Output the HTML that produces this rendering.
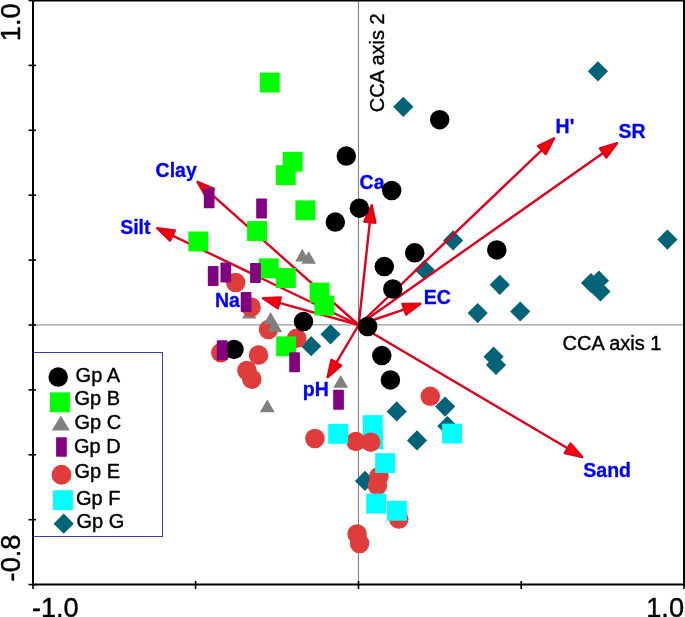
<!DOCTYPE html>
<html><head><meta charset="utf-8"><title>CCA biplot</title>
<style>html,body{margin:0;padding:0;background:#fff}svg{display:block}</style></head>
<body>
<svg width="685" height="617" viewBox="0 0 685 617">
<rect width="685" height="617" fill="#fff"/>
<line x1="358.45" y1="1" x2="358.45" y2="584" stroke="#6a6a6a" stroke-width="0.9"/>
<line x1="34" y1="324.9" x2="683" y2="324.9" stroke="#9a9a9a" stroke-width="1.2"/>
<rect x="33" y="352.5" width="129.5" height="184" fill="none" stroke="#3a3aa8" stroke-width="1"/>
<g fill="#006378">
<path d="M403.3 96.7L413.4 106.8L403.3 116.9L393.2 106.8Z"/>
<path d="M597.9 61.2L608.0 71.3L597.9 81.4L587.8 71.3Z"/>
<path d="M667.4 229.5L677.5 239.6L667.4 249.7L657.3 239.6Z"/>
<path d="M591.0 272.9L601.1 283.0L591.0 293.1L580.9 283.0Z"/>
<path d="M598.9 270.6L609.0 280.7L598.9 290.8L588.8 280.7Z"/>
<path d="M600.4 281.3L610.5 291.4L600.4 301.5L590.3 291.4Z"/>
<path d="M520.2 301.4L530.3 311.5L520.2 321.6L510.1 311.5Z"/>
<path d="M453.1 230.3L463.2 240.4L453.1 250.5L443.0 240.4Z"/>
<path d="M424.6 259.7L434.7 269.8L424.6 279.9L414.5 269.8Z"/>
<path d="M499.8 274.7L509.9 284.8L499.8 294.9L489.7 284.8Z"/>
<path d="M477.7 303.0L487.8 313.1L477.7 323.2L467.6 313.1Z"/>
<path d="M330.5 324.2L340.6 334.3L330.5 344.4L320.4 334.3Z"/>
<path d="M311.2 336.1L321.3 346.2L311.2 356.3L301.1 346.2Z"/>
<path d="M396.7 401.3L406.8 411.4L396.7 421.5L386.6 411.4Z"/>
<path d="M445.1 396.5L455.2 406.6L445.1 416.7L435.0 406.6Z"/>
<path d="M417.0 430.3L427.1 440.4L417.0 450.5L406.9 440.4Z"/>
<path d="M447.4 416.0L457.5 426.1L447.4 436.2L437.3 426.1Z"/>
<path d="M365.0 470.8L375.1 480.9L365.0 491.0L354.9 480.9Z"/>
<path d="M493.6 346.6L503.7 356.7L493.6 366.8L483.5 356.7Z"/>
<path d="M496.0 354.9L506.1 365.0L496.0 375.1L485.9 365.0Z"/>
</g>
<g stroke="#e0001e" stroke-width="2.4" stroke-linejoin="round" stroke-linecap="round">
<line x1="358.7" y1="325.0" x2="210.2" y2="193.1"/>
<path fill="#ff0000" d="M197.5 181.8L213.9 188.9L206.5 197.3Z"/>
<line x1="358.7" y1="325.0" x2="172.5" y2="235.6"/>
<path fill="#ff0000" d="M157.2 228.2L174.9 230.5L170.1 240.6Z"/>
<line x1="358.7" y1="325.0" x2="279.3" y2="302.9"/>
<path fill="#ff0000" d="M263.0 298.3L280.8 297.5L277.8 308.3Z"/>
<line x1="358.7" y1="325.0" x2="369.8" y2="222.1"/>
<path fill="#ff0000" d="M371.7 205.2L375.4 222.7L364.3 221.5Z"/>
<line x1="358.7" y1="325.0" x2="541.8" y2="150.1"/>
<path fill="#ff0000" d="M554.1 138.3L545.7 154.1L538.0 146.0Z"/>
<line x1="358.7" y1="325.0" x2="603.1" y2="153.0"/>
<path fill="#ff0000" d="M617.0 143.2L606.3 157.6L599.9 148.4Z"/>
<line x1="358.7" y1="325.0" x2="404.3" y2="309.3"/>
<path fill="#ff0000" d="M420.4 303.8L406.1 314.6L402.5 304.0Z"/>
<line x1="358.7" y1="325.0" x2="336.3" y2="362.7"/>
<path fill="#ff0000" d="M327.6 377.3L331.5 359.8L341.1 365.5Z"/>
<line x1="358.7" y1="325.0" x2="567.6" y2="448.3"/>
<path fill="#ff0000" d="M582.3 457.0L564.8 453.2L570.5 443.5Z"/>
</g>
<g font-family="'Liberation Sans', Arial, sans-serif" font-size="19.5" font-weight="bold" fill="#0000ff" stroke="#0000ff" stroke-width="0.3" stroke-linejoin="round">
<text x="155.6" y="176.6">Clay</text>
<text x="120.2" y="233.7">Silt</text>
<text x="214.9" y="306.5">Na</text>
<text x="359.6" y="189.0">Ca</text>
<text x="555.6" y="132.9">H'</text>
<text x="618.6" y="137.6">SR</text>
<text x="423.7" y="303.7">EC</text>
<text x="302.8" y="396.0">pH</text>
<text x="583.3" y="476.8">Sand</text>
</g>
<g fill="#808080">
<path d="M249.3 305.5L256.5 318.5L242.1 318.5Z"/>
</g>
<g fill="#e03c3c">
<circle cx="235.7" cy="282.6" r="9.75"/>
<circle cx="251.1" cy="307.2" r="9.75"/>
<circle cx="268.5" cy="329.6" r="9.75"/>
<circle cx="296.7" cy="338.3" r="9.75"/>
<circle cx="220.8" cy="352.7" r="9.75"/>
<circle cx="258.5" cy="355.1" r="9.75"/>
<circle cx="246.9" cy="370.5" r="9.75"/>
<circle cx="251.8" cy="379.2" r="9.75"/>
<circle cx="430.3" cy="396.3" r="9.75"/>
<circle cx="314.9" cy="438.5" r="9.75"/>
<circle cx="355.8" cy="441.4" r="9.75"/>
<circle cx="378.9" cy="476.4" r="9.75"/>
<circle cx="377.4" cy="485.6" r="9.75"/>
<circle cx="398.8" cy="519.1" r="9.75"/>
<circle cx="357.1" cy="534.0" r="9.75"/>
<circle cx="359.6" cy="543.5" r="9.75"/>
</g>
<g fill="#00ffff">
<rect x="328.2" y="423.9" width="19.9" height="19.9"/>
<rect x="362.8" y="415.2" width="19.9" height="19.9"/>
<rect x="363.2" y="429.4" width="19.9" height="19.9"/>
<rect x="375.2" y="453.2" width="19.9" height="19.9"/>
<rect x="366.2" y="493.6" width="19.9" height="19.9"/>
<rect x="386.9" y="500.8" width="19.9" height="19.9"/>
<rect x="442.1" y="423.6" width="19.9" height="19.9"/>
</g>
<g fill="#e03c3c">
<circle cx="370.7" cy="442.2" r="9.75"/>
</g>
<g fill="#808080">
<path d="M302.3 248.6L309.3 261.5L295.3 261.5Z"/>
<path d="M308.7 251.2L316.0 263.8L301.4 263.8Z"/>
<path d="M340.7 375.0L348.1 387.7L333.3 387.7Z"/>
<path d="M270.6 311.9L277.7 324.4L263.5 324.4Z"/>
<path d="M274.7 319.2L282.1 332.0L267.3 332.0Z"/>
<path d="M267.3 399.6L274.7 412.3L259.9 412.3Z"/>
</g>
<g fill="#00ff00">
<rect x="259.8" y="72.6" width="19.9" height="19.9"/>
<rect x="282.7" y="151.8" width="19.9" height="19.9"/>
<rect x="275.8" y="165.2" width="19.9" height="19.9"/>
<rect x="295.4" y="200.4" width="19.9" height="19.9"/>
<rect x="247.1" y="221.1" width="19.9" height="19.9"/>
<rect x="188.4" y="231.5" width="19.9" height="19.9"/>
<rect x="258.8" y="258.4" width="19.9" height="19.9"/>
<rect x="275.9" y="268.1" width="19.9" height="19.9"/>
<rect x="309.6" y="282.7" width="19.9" height="19.9"/>
<rect x="314.4" y="295.6" width="19.9" height="19.9"/>
<rect x="276.2" y="336.4" width="19.9" height="19.9"/>
</g>
<g fill="#000">
<circle cx="346.3" cy="156.1" r="9.75"/>
<circle cx="391.7" cy="190.5" r="9.75"/>
<circle cx="359.4" cy="208.2" r="9.75"/>
<circle cx="335.3" cy="222.1" r="9.75"/>
<circle cx="414.7" cy="252.8" r="9.75"/>
<circle cx="384.3" cy="266.6" r="9.75"/>
<circle cx="392.8" cy="289.0" r="9.75"/>
<circle cx="439.7" cy="119.7" r="9.75"/>
<circle cx="496.8" cy="249.9" r="9.75"/>
<circle cx="367.6" cy="326.5" r="9.75"/>
<circle cx="303.5" cy="321.6" r="9.75"/>
<circle cx="381.8" cy="355.6" r="9.75"/>
<circle cx="390.4" cy="379.9" r="9.75"/>
<circle cx="234.0" cy="349.4" r="9.75"/>
</g>
<g fill="#800080">
<rect x="203.8" y="188.2" width="10.7" height="20.0" rx="0.8"/>
<rect x="256.2" y="198.4" width="10.7" height="20.0" rx="0.8"/>
<rect x="207.8" y="266.0" width="10.7" height="20.0" rx="0.8"/>
<rect x="220.5" y="262.6" width="10.7" height="20.0" rx="0.8"/>
<rect x="250.1" y="263.1" width="10.7" height="20.0" rx="0.8"/>
<rect x="240.7" y="291.9" width="10.7" height="20.0" rx="0.8"/>
<rect x="289.2" y="352.2" width="10.7" height="20.0" rx="0.8"/>
<rect x="333.2" y="389.8" width="10.7" height="20.0" rx="0.8"/>
<rect x="216.8" y="340.3" width="10.7" height="20.0" rx="0.8"/>
</g>
<circle cx="58.2" cy="377.1" r="9.75" fill="#000"/>
<rect x="50.0" y="392.4" width="19.9" height="19.9" fill="#00ff00"/>
<path d="M60.8 415.6L69.9 430.4L51.8 430.4Z" fill="#808080"/>
<rect x="56.1" y="437.3" width="10.7" height="19.5" rx="0.8" fill="#800080"/>
<circle cx="61.5" cy="474.7" r="9.95" fill="#e03c3c"/>
<rect x="53.0" y="490.2" width="19.9" height="19.9" fill="#00ffff"/>
<path d="M63.7 513.6L73.8 523.7L63.7 533.8L53.6 523.7Z" fill="#006378"/>
<g stroke="#000" stroke-width="2" fill="none" stroke-linecap="butt">
<line x1="33" y1="0" x2="33" y2="585.5"/>
<line x1="684" y1="0" x2="684" y2="585.5"/>
<line x1="32" y1="0.4" x2="685" y2="0.4"/>
<line x1="32" y1="584.5" x2="685" y2="584.5"/>
</g>
<g stroke="#000" stroke-width="1.6" fill="none">
<line x1="28.5" y1="0.5" x2="36" y2="0.5"/>
<line x1="28.5" y1="65.4" x2="36" y2="65.4"/>
<line x1="28.5" y1="130.3" x2="36" y2="130.3"/>
<line x1="28.5" y1="195.2" x2="36" y2="195.2"/>
<line x1="28.5" y1="260.1" x2="36" y2="260.1"/>
<line x1="28.5" y1="325.0" x2="36" y2="325.0"/>
<line x1="28.5" y1="389.9" x2="36" y2="389.9"/>
<line x1="28.5" y1="454.8" x2="36" y2="454.8"/>
<line x1="28.5" y1="519.7" x2="36" y2="519.7"/>
<line x1="28.5" y1="584.6" x2="36" y2="584.6"/>
<line x1="33" y1="581" x2="33" y2="589"/>
<line x1="195.6" y1="581" x2="195.6" y2="589"/>
<line x1="358.5" y1="581" x2="358.5" y2="589"/>
<line x1="521.2" y1="581" x2="521.2" y2="589"/>
<line x1="684" y1="581" x2="684" y2="589"/>
</g>
<g font-family="'Liberation Sans', Arial, sans-serif" fill="#000" stroke="#000" stroke-width="0.4" stroke-linejoin="round">
<g font-size="27.2">
<text x="31.9" y="616.5">-1.0</text>
<text x="684" y="616.5" text-anchor="end">1.0</text>
<text transform="translate(20,581.4) rotate(-90)">-0.8</text>
<text transform="translate(19.5,41.2) rotate(-90)">1.0</text>
</g>
<g font-size="20">
<text x="562.5" y="349.7">CCA axis 1</text>
<text transform="translate(384.3,112.3) rotate(-90)">CCA axis 2</text>
<text x="75.6" y="382.0">Gp A</text>
<text x="74.4" y="404.8">Gp B</text>
<text x="74.4" y="428.9">Gp C</text>
<text x="74.0" y="452.7">Gp D</text>
<text x="74.4" y="478.1">Gp E</text>
<text x="76.0" y="504.9">Gp F</text>
<text x="76.4" y="528.2">Gp G</text>
</g>
</g>
</svg>
</body></html>
